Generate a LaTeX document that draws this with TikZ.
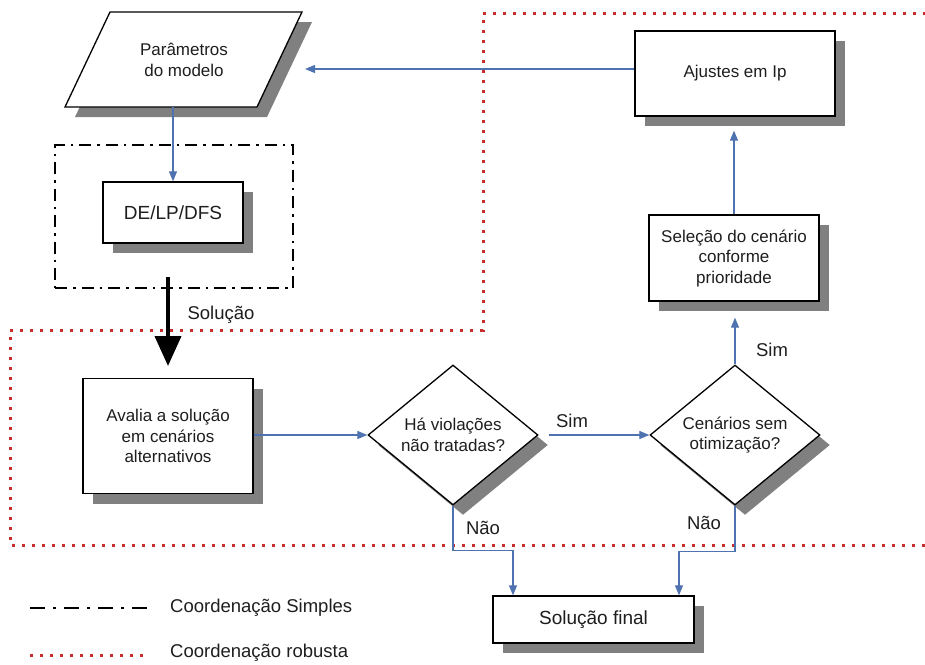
\documentclass[tikz,border=0pt]{standalone}
\usepackage{fontspec}
\setmainfont{Liberation Sans}
\usetikzlibrary{shapes.geometric,shadows,arrows.meta}
\definecolor{shadowgray}{RGB}{128,128,128}
\definecolor{flowblue}{RGB}{79,114,176}
\definecolor{dotred}{RGB}{200,45,45}
\definecolor{txt}{RGB}{30,30,30}
\tikzset{
  shad/.style={drop shadow={fill=shadowgray,opacity=1,shadow xshift=10pt,shadow yshift=-10pt}},
  boxtxt/.style={font=\fontsize{17}{20.5}\selectfont, text=txt, align=center},
  bigtxt/.style={font=\fontsize{19}{22}\selectfont, text=txt, align=center},
  lbl/.style={font=\fontsize{18.5}{22}\selectfont, text=txt},
  procbox/.style={draw=black, fill=white, line width=1.3pt, shad, inner sep=2pt},
  decision/.style={diamond, draw=black, fill=white, line width=1.3pt, shad, inner sep=0pt, aspect=1.2},
  flow/.style={draw=flowblue, line width=1.2pt, -{Triangle[length=10pt,width=8pt]}},
  robust/.style={draw=dotred, line width=3pt, dash pattern=on 3pt off 7pt},
  simples/.style={draw=black, line width=2.2pt, dash pattern=on 12pt off 6pt on 2.5pt off 6pt},
  simpleslegend/.style={draw=black, line width=2.8pt, dash pattern=on 15pt off 8pt on 3pt off 8pt},
}
\begin{document}
\begin{tikzpicture}[x=1pt,y=-1pt]
\useasboundingbox (0,0) rectangle (925,664);

% robust coordination region
\draw[robust] (925,545) -- (10,545) -- (10,330) -- (483,330) -- (483,13) -- (925,13);

% simple coordination box
\node[simples, minimum width=238pt, minimum height=143pt] (simplesbox) at (174,216.5) {};

% parameters (parallelogram)
\fill[shadowgray] (120,22) -- (312,22) -- (267,117) -- (75,117) -- cycle;
\draw[line width=1.3pt, fill=white] (110,12) -- (302,12) -- (257,107) -- (65,107) -- cycle;
\node[boxtxt] (param) at (184,60) {Parâmetros\\do modelo};
\coordinate (pbot) at (173,107);
\coordinate (pright) at (305,69);

% boxes
\node[procbox, bigtxt, minimum width=140pt, minimum height=61pt] (de) at (173,212.5) {DE/LP/DFS};
\node[procbox, boxtxt, minimum width=200pt, minimum height=85pt] (ajustes) at (735,73.5) {Ajustes em Ip};
\node[procbox, boxtxt, minimum width=170pt, minimum height=86pt] (sel) at (734,258) {Seleção do cenário\\conforme\\prioridade};
\node[procbox, boxtxt, minimum width=170pt, minimum height=115pt] (avalia) at (168,436) {Avalia a solução\\em cenários\\alternativos};
\node[decision, boxtxt, minimum width=170pt, minimum height=140pt] (d1) at (453,435) {Há violações\\não tratadas?};
\node[decision, boxtxt, minimum width=170pt, minimum height=140pt] (d2) at (735,435) {Cenários sem\\otimização?};
\node[procbox, bigtxt, minimum width=201pt, minimum height=47pt] (final) at (593.5,619.5) {Solução final};

% connectors
\draw[flow] (pbot) -- (de.north);
\draw[flow] (ajustes.west |- pright) -- (pright);
\draw[flow, shorten >=14pt] (sel.north) -- (sel.north |- ajustes.south);
\draw[flow, shorten >=16pt] (d2.north) -- (d2.north |- sel.south);
\draw[flow] (avalia.east |- d1.west) -- (d1.west);
\draw[flow, shorten <=10pt] (d1.east) -- (d2.west);
\draw[flow] (d1.south) -- ++(0,45) -| ([xshift=-80.5pt]final.north);
\draw[flow] (d2.south) -- ++(0,46) -| ([xshift=85.5pt]final.north);

% thick solution arrow
\coordinate (solstart) at (168,277);
\coordinate (solend) at (168,366);
\draw[line width=4pt, -{Triangle[length=30pt,width=26pt]}] (solstart) -- (solend);

% labels
\node[lbl] (lsol) at (221,315) {Solução};
\node[lbl] (lsim1) at (572,421) {Sim};
\node[lbl] (lsim2) at (772,350) {Sim};
\node[lbl] (lnao1) at (483,528) {Não};
\node[lbl] (lnao2) at (704,523) {Não};

% legend
\coordinate (lg1a) at (30,608);
\coordinate (lg1b) at (147,608);
\coordinate (lg2a) at (30,655);
\coordinate (lg2b) at (147,655);
\draw[simpleslegend] (lg1a) -- (lg1b);
\draw[robust] (lg2a) -- (lg2b);
\node[lbl, anchor=west, inner sep=0pt] (leg1) at (170,608) {Coordenação Simples};
\node[lbl, anchor=west, inner sep=0pt] (leg2) at (170,653) {Coordenação robusta};
\end{tikzpicture}
\end{document}
